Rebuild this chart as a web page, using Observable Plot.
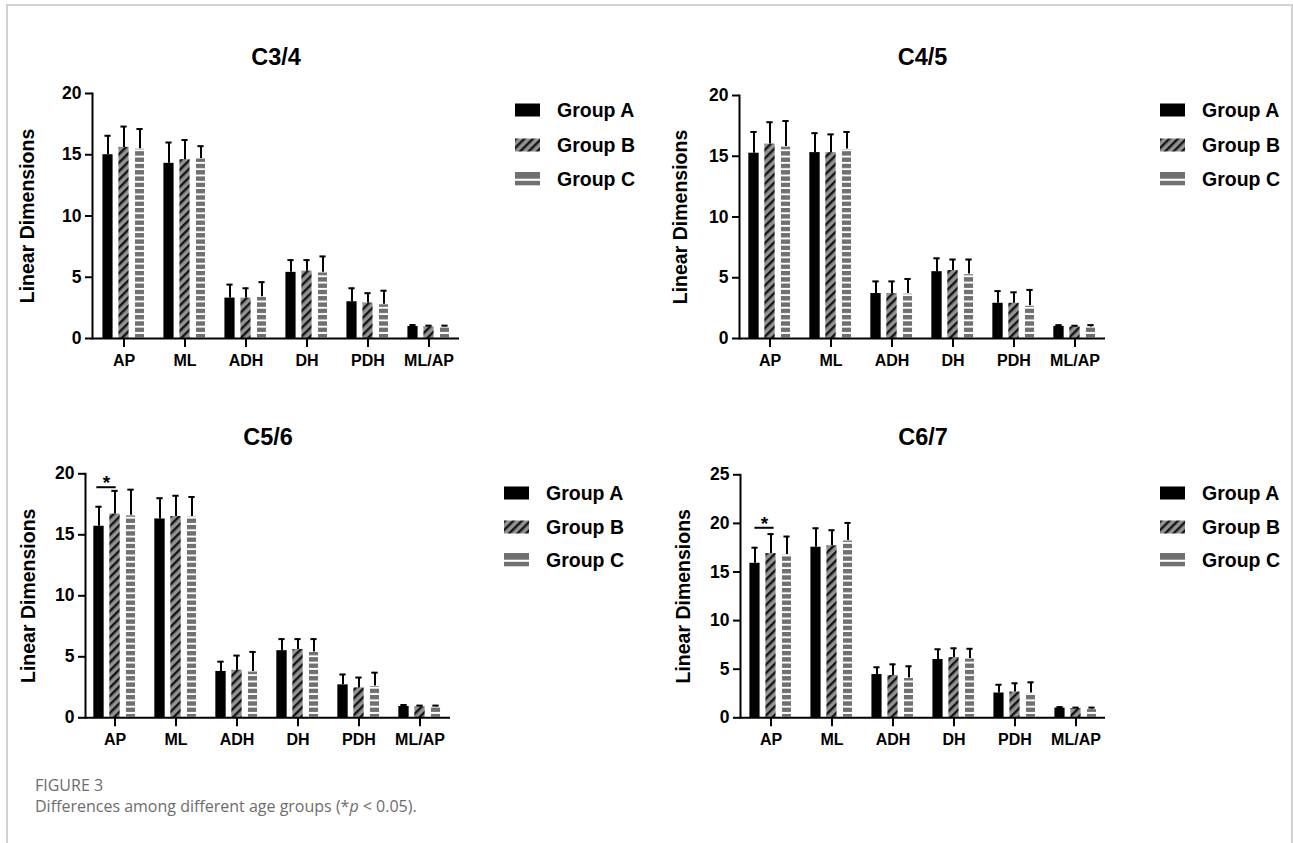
<!DOCTYPE html>
<html>
<head>
<meta charset="utf-8">
<script src="https://cdn.jsdelivr.net/npm/d3@7"></script>
<script src="https://cdn.jsdelivr.net/npm/@observablehq/plot@0.6"></script>
<style>
  html, body { margin: 0; padding: 0; background: #fff; }
  #page { position: relative; width: 1293px; height: 843px; overflow: hidden; background: #fff;
          font-family: "Liberation Sans", Arial, sans-serif; }
  #border { position: absolute; left: 6px; top: 4px; width: 1283px; height: 900px;
            border: 2px solid #d2d2d2; border-bottom: none; }
  .panel { position: absolute; }
  .panel svg { overflow: visible; }
  .lg-swatch { position: absolute; }
  .lg-text { position: absolute; font-weight: bold; font-size: 19.5px; line-height: 24px; color: #000; white-space: nowrap; }
  .cap1 { position: absolute; left: 35px; top: 775px; font-family: "Open Sans", sans-serif; font-size: 16px;
          line-height: 20px; color: #6d6d6d; }
  .cap2 { position: absolute; left: 35px; top: 796px; font-family: "Open Sans", sans-serif; font-size: 16px;
          line-height: 20px; color: #6d6d6d; white-space: nowrap; }
</style>
</head>
<body>
<div id="page">
  <svg width="0" height="0" style="position:absolute">
    <defs>
      <pattern id="hatchB" patternUnits="userSpaceOnUse" width="6" height="6" patternTransform="rotate(45)">
        <rect width="6" height="6" fill="#929292"></rect>
        <rect width="2.4" height="6" fill="#141414"></rect>
      </pattern>
      <pattern id="stripeC" patternUnits="userSpaceOnUse" width="10" height="6.3">
        <rect width="10" height="6.3" fill="#ffffff"></rect>
        <rect width="10" height="4.4" fill="#707070"></rect>
      </pattern>
    </defs>
  </svg>
  <div id="border"></div>
  <div class="cap1">FIGURE 3</div>
  <div class="cap2">Differences among different age groups (*<i>p</i> &lt; 0.05).</div>
</div>
<script>
// ---------------- data ----------------
const metrics = ["AP", "ML", "ADH", "DH", "PDH", "ML/AP"];
const groups = ["Group A", "Group B", "Group C"];
const panelTitles = ["C3/4", "C4/5", "C5/6", "C6/7"];
const yLabel = "Linear Dimensions";

// means: rows = Group A, Group B, Group C; columns = metrics
const meanC34 = [
  [15.0, 14.3, 3.3, 5.4, 3.0, 0.98],
  [15.6, 14.6, 3.3, 5.5, 2.9, 0.95],
  [15.5, 14.7, 3.4, 5.4, 2.8, 0.95]
];
const errC34 = [
  [1.55, 1.7, 1.1, 1.0, 1.1, 0.12],
  [1.7, 1.6, 0.8, 0.9, 0.8, 0.1],
  [1.6, 1.0, 1.2, 1.3, 1.1, 0.1]
];
const meanC45 = [
  [15.25, 15.3, 3.7, 5.5, 2.9, 1.0],
  [16.0, 15.3, 3.7, 5.6, 2.9, 0.95],
  [15.8, 15.6, 3.7, 5.3, 2.7, 0.95]
];
const errC45 = [
  [1.75, 1.6, 1.0, 1.1, 1.0, 0.1],
  [1.8, 1.5, 1.0, 0.9, 0.9, 0.1],
  [2.1, 1.4, 1.2, 1.2, 1.3, 0.15]
];
const meanC56 = [
  [15.7, 16.3, 3.8, 5.5, 2.7, 0.93],
  [16.7, 16.5, 3.9, 5.6, 2.45, 0.9],
  [16.6, 16.5, 3.8, 5.4, 2.6, 0.9]
];
const errC56 = [
  [1.6, 1.7, 0.8, 0.95, 0.85, 0.12],
  [1.9, 1.7, 1.2, 0.85, 0.85, 0.1],
  [2.1, 1.6, 1.6, 1.05, 1.1, 0.1]
];
const meanC67 = [
  [15.9, 17.55, 4.45, 6.0, 2.55, 1.0],
  [16.9, 17.7, 4.35, 6.2, 2.65, 0.95],
  [16.8, 18.25, 4.1, 6.1, 2.55, 0.9]
];
const errC67 = [
  [1.6, 1.95, 0.75, 1.05, 0.85, 0.1],
  [2.0, 1.6, 1.15, 0.95, 0.9, 0.1],
  [1.85, 1.8, 1.2, 1.0, 1.1, 0.15]
];
const yMaxes = [20, 20, 20, 25];
// significance (*p < 0.05) between Group A and Group B at AP
const sigPanels = ["C5/6", "C6/7"];
const sigMetric = ["AP", "AP"];
const sigY = [18.9, 19.55];

// ---------------- styles / layout ----------------
const groupFill = ["#000000", "url(#hatchB)", "url(#stripeC)"];
const groupStroke = ["none", "none", "#ffffff"];
const groupDx = [-16, 0, 16];
const layouts = [
  {left: 0,   top: 0,   width: 470, height: 370, mL: 92, mR: 11, mT: 93,   mB: 32,   xr: [90, 461], titleDy: -36,   labelDx: -64.5, sigDx: -8,
   lgSw: 515, lgTx: 557, lgY: [110, 144.5, 179]},
  {left: 650, top: 0,   width: 470, height: 370, mL: 89, mR: 15, mT: 95,   mB: 32,   xr: [87, 457], titleDy: -38,   labelDx: -58.5, sigDx: -8,
   lgSw: 1160, lgTx: 1202, lgY: [110, 144.5, 179]},
  {left: 0,   top: 380, width: 470, height: 370, mL: 85, mR: 20, mT: 93.3, mB: 32.7, xr: [82, 452], titleDy: -36.3, labelDx: -56.7, sigDx: -8.5,
   lgSw: 504, lgTx: 546, lgY: [493, 527, 560]},
  {left: 650, top: 380, width: 470, height: 370, mL: 90, mR: 15, mT: 94.3, mB: 32.7, xr: [87, 458], titleDy: -37.3, labelDx: -56.3, sigDx: -6.5,
   lgSw: 1160, lgTx: 1202, lgY: [493, 527, 560]}
];

const allMeans = [meanC34, meanC45, meanC56, meanC67];
const allErrs = [errC34, errC45, errC56, errC67];

function rowsFor(pi) {
  const rows = [];
  groups.forEach((g, gi) => metrics.forEach((m, mi) => {
    const mean = allMeans[pi][gi][mi], err = allErrs[pi][gi][mi];
    rows.push({group: g, gi, metric: m, mean, top: mean + err});
  }));
  return rows;
}

const page = document.getElementById("page");
const font = "'Liberation Sans', Arial, sans-serif";

panelTitles.forEach((title, pi) => {
  const L = layouts[pi];
  const rows = rowsFor(pi);
  const step = (L.xr[1] - L.xr[0]) / metrics.length;
  const barInset = (step - 11) / 2;
  const capInset = (step - 7) / 2;
  const sig = sigPanels.map((p, i) => ({panel: p, metric: sigMetric[i], y: sigY[i]})).filter(d => d.panel === title);

  const marks = [];
  groups.forEach((g, gi) => {
    const gr = rows.filter(d => d.gi === gi);
    marks.push(Plot.barY(gr, {x: "metric", y: "mean", fill: groupFill[gi], stroke: groupStroke[gi], strokeWidth: 1.2,
      dx: groupDx[gi], insetLeft: barInset, insetRight: barInset}));
    marks.push(Plot.ruleX(gr, {x: "metric", y1: "mean", y2: "top", dx: groupDx[gi], stroke: "#000", strokeWidth: 2}));
    marks.push(Plot.tickY(gr, {x: "metric", y: "top", dx: groupDx[gi], insetLeft: capInset, insetRight: capInset, stroke: "#000", strokeWidth: 2}));
  });
  marks.push(Plot.tickY(sig, {x: "metric", y: "y", dx: L.sigDx, insetLeft: (step - 20) / 2, insetRight: (step - 20) / 2, stroke: "#000", strokeWidth: 2}));
  marks.push(Plot.text(sig, {x: "metric", y: "y", text: () => "*", dx: L.sigDx, dy: -4, lineAnchor: "middle", fontSize: 19, fontWeight: "bold", fill: "#000"}));
  marks.push(Plot.frame({anchor: "left", stroke: "#000", strokeWidth: 2}));
  marks.push(Plot.ruleY([0], {stroke: "#000", strokeWidth: 2}));
  marks.push(Plot.axisY({ticks: d3.range(0, yMaxes[pi] + 1, 5), tickSize: 7, tickPadding: 4, fontSize: 17.5, fontWeight: "bold", strokeWidth: 2, label: null}));
  marks.push(Plot.axisX({tickSize: 9, tickPadding: 7, fontSize: 16, fontWeight: "bold", strokeWidth: 2, label: null}));
  marks.push(Plot.text([title], {text: d => d, frameAnchor: "top", dy: L.titleDy, fontSize: 23.5, fontWeight: "bold", fill: "#000", lineAnchor: "middle"}));
  marks.push(Plot.text([yLabel], {text: d => d, frameAnchor: "left", rotate: -90, dx: L.labelDx, fontSize: 19.5, fontWeight: "bold", fill: "#000", textAnchor: "middle", lineAnchor: "middle"}));

  const chart = Plot.plot({
    width: L.width, height: L.height,
    marginLeft: L.mL, marginRight: L.mR, marginTop: L.mT, marginBottom: L.mB,
    style: {background: "transparent", color: "#000", fontFamily: font, overflow: "visible"},
    x: {type: "band", domain: metrics, range: L.xr, padding: 0, label: null},
    y: {domain: [0, yMaxes[pi]], label: null},
    marks
  });
  const div = document.createElement("div");
  div.className = "panel";
  div.style.left = L.left + "px";
  div.style.top = L.top + "px";
  div.appendChild(chart);
  page.appendChild(div);

  // legend
  groups.forEach((g, gi) => {
    const cy = L.lgY[gi];
    const sw = document.createElementNS("http://www.w3.org/2000/svg", "svg");
    sw.setAttribute("width", 25); sw.setAttribute("height", 14);
    sw.setAttribute("class", "lg-swatch");
    sw.style.left = L.lgSw + "px"; sw.style.top = (cy - 7) + "px";
    if (gi === 0) sw.innerHTML = '<rect x="0" y="0.5" width="25" height="13" fill="#000"/>';
    if (gi === 1) sw.innerHTML = '<rect x="0" y="0.5" width="25" height="13" fill="url(#hatchB)"/>';
    if (gi === 2) sw.innerHTML = '<rect x="0" y="0" width="25" height="6.7" fill="#707070"/><rect x="0" y="8.8" width="25" height="4.5" fill="#707070"/>';
    page.appendChild(sw);
    const tx = document.createElement("div");
    tx.className = "lg-text";
    tx.textContent = g;
    tx.style.left = L.lgTx + "px"; tx.style.top = (cy - 12) + "px";
    page.appendChild(tx);
  });
});
</script>
</body>
</html>
